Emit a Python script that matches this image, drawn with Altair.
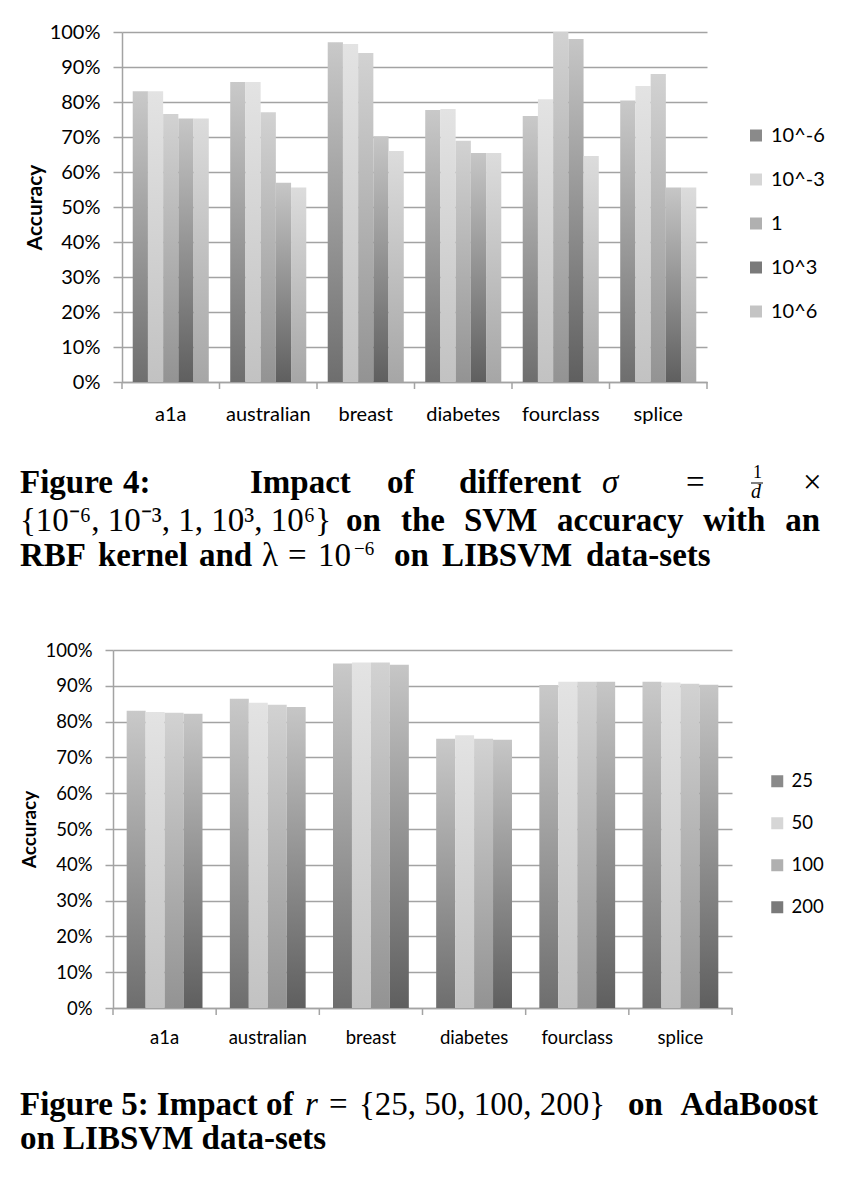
import altair as alt
import pandas as pd

# ---------------- data ----------------
datasets = ["a1a", "australian", "breast", "diabetes", "fourclass", "splice"]

sigma_levels = ["10^-6", "10^-3", "1", "10^3", "10^6"]
sigma_acc_1e_6 = [83.1, 85.7, 97.1, 77.7, 76.0, 80.4]
sigma_acc_1e_3 = [83.1, 85.7, 96.6, 78.0, 80.8, 84.6]
sigma_acc_1 = [76.6, 77.1, 94.0, 68.9, 100.0, 88.0]
sigma_acc_1e3 = [75.3, 56.9, 70.2, 65.4, 98.0, 55.6]
sigma_acc_1e6 = [75.3, 55.6, 66.0, 65.4, 64.6, 55.6]
sigma_values = [sigma_acc_1e_6, sigma_acc_1e_3, sigma_acc_1, sigma_acc_1e3, sigma_acc_1e6]

r_levels = ["25", "50", "100", "200"]
r_acc_25 = [83.0, 86.4, 96.2, 75.2, 90.2, 91.1]
r_acc_50 = [82.7, 85.3, 96.5, 76.2, 91.1, 90.9]
r_acc_100 = [82.5, 84.7, 96.5, 75.2, 91.1, 90.6]
r_acc_200 = [82.2, 84.1, 95.9, 74.9, 91.1, 90.3]
r_values = [r_acc_25, r_acc_50, r_acc_100, r_acc_200]

y_ticks = [0, 10, 20, 30, 40, 50, 60, 70, 80, 90, 100]

# (top colour, bottom colour) of each series' vertical gradient, and a flat legend colour
shades = [("#c9c9c9", "#6e6e6e"), ("#e3e3e3", "#c2c2c2"), ("#d2d2d2", "#939393"),
          ("#c6c6c6", "#5f5f5f"), ("#dcdcdc", "#a6a6a6")]
legend_cols = ["#8a8a8a", "#d6d6d6", "#b0b0b0", "#7a7a7a", "#c4c4c4"]

LABEL_FONT = "Lato"
CAP_FONT = "Liberation Serif"
GRID = "#a3a3a3"
CAP = 33


def long_df(levels, values):
    rows = []
    for lv, vals in zip(levels, values):
        for d, v in zip(datasets, vals):
            rows.append({"dataset": d, "series": lv, "acc": v})
    return pd.DataFrame(rows)


def caption(text, x, y, size=CAP, style="normal", weight="bold", align="left"):
    return alt.Chart(pd.DataFrame({"t": [text]})).mark_text(
        align=align, baseline="alphabetic", font=CAP_FONT, fontSize=size,
        fontWeight=weight, fontStyle=style, color="black"
    ).encode(text="t:N", x=alt.value(x), y=alt.value(y))


def panel(levels, values, width, height, xrange, pad_inner, yoff, lab_size,
          title_size, label_pad_x, title_pad, legend_x, legend_y, row_pad, tick_size):
    df = long_df(levels, values)
    xscale = alt.Scale(domain=datasets, range=xrange, paddingInner=pad_inner,
                       paddingOuter=pad_inner / 2)
    xaxis = alt.Axis(title=None, ticks=False, domainColor=GRID, domainWidth=1.5,
                     labelFont=LABEL_FONT, labelFontSize=lab_size, labelColor="black",
                     labelPadding=label_pad_x, labelAngle=0)
    yaxis = alt.Axis(title="Accuracy", values=y_ticks, labelExpr="datum.value + '%'",
                     grid=True, gridColor=GRID, gridWidth=1.5, domainColor=GRID,
                     domainWidth=1.5, tickColor=GRID, tickWidth=1.5, tickSize=tick_size,
                     labelFont=LABEL_FONT, labelFontSize=lab_size, labelColor="black",
                     labelPadding=13, titleFont=LABEL_FONT, titleFontSize=title_size,
                     titleFontWeight="bold", titleColor="black", titlePadding=title_pad,
                     offset=yoff)
    x = alt.X("dataset:N", sort=datasets, scale=xscale, axis=xaxis)
    xo = alt.XOffset("series:N", scale=alt.Scale(domain=levels, paddingInner=0, paddingOuter=0))
    y = alt.Y("acc:Q", scale=alt.Scale(domain=[0, 100]), axis=yaxis)

    layers = []
    for lv, (top, bot) in zip(levels, shades):
        grad = alt.Gradient(gradient="linear",
                            stops=[alt.GradientStop(offset=0, color=top),
                                   alt.GradientStop(offset=1, color=bot)],
                            x1=0, x2=0, y1=0, y2=1)
        layers.append(alt.Chart(df).transform_filter(alt.datum.series == lv)
                      .mark_bar(color=grad, cornerRadius=0).encode(x=x, xOffset=xo, y=y))
    legend = alt.Legend(orient="none", legendX=legend_x, legendY=legend_y, title=None,
                        symbolType="square", symbolSize=144, symbolOpacity=1,
                        symbolStrokeWidth=0, labelFont=LABEL_FONT, labelFontSize=lab_size,
                        labelColor="black", rowPadding=row_pad, labelOffset=5)
    layers.append(alt.Chart(df).mark_square(opacity=0, size=1).encode(
        x=x, xOffset=xo, y=y,
        color=alt.Color("series:N", scale=alt.Scale(domain=levels,
                                                     range=legend_cols[:len(levels)]),
                        legend=legend)))
    # category boundary ticks below the x axis (half an inner padding before each band)
    step = (xrange[1] - xrange[0]) / len(datasets)
    shift = -(pad_inner / 2) * step
    layers.append(alt.Chart(pd.DataFrame({"dataset": datasets})).mark_rule(
        color=GRID, strokeWidth=1.5, xOffset=shift).encode(
        x=alt.X("dataset:N", sort=datasets, bandPosition=0, scale=xscale, axis=xaxis),
        y=alt.value(height), y2=alt.value(height + 7)))
    layers.append(alt.Chart(pd.DataFrame({"dataset": ["end"]})).mark_rule(
        color=GRID, strokeWidth=1.5).encode(
        x=alt.value(xrange[1]), y=alt.value(height), y2=alt.value(height + 7)))
    return layers


# ---------- Figure 4 (plot origin at page (122, 32)) ----------
W1, H1 = 585, 350
top_layers = panel(sigma_levels, sigma_values, W1, H1, [0, W1], 0.22, 0, 20, 21, 22, 4,
                   624, 93.5, 24, 9)
o1 = 122
L1, L2, L3 = 461, 499, 534
top_layers += [
    # line 1 (justified)
    caption("Figure", 20 - o1, L1), caption("4:", 123 - o1, L1),
    caption("Impact", 250 - o1, L1), caption("of", 387 - o1, L1),
    caption("different", 459 - o1, L1),
    caption("σ", 602 - o1, L1, style="italic", weight="normal"),
    caption("=", 686 - o1, L1, weight="normal"),
    caption("1", 753 - o1, 446, size=18, weight="normal"),
    caption("d", 751 - o1, 466, size=20, style="italic", weight="normal"),
    caption("×", 803 - o1, L1, weight="normal"),
    # line 2 (justified)
    caption("{10⁻⁶, 10⁻³, 1, 10³, 10⁶}", 20 - o1, L2, weight="normal"),
    caption("on", 346 - o1, L2), caption("the", 401 - o1, L2),
    caption("SVM", 464 - o1, L2), caption("accuracy", 557 - o1, L2),
    caption("with", 703 - o1, L2), caption("an", 820 - o1, L2, align="right"),
    # line 3
    caption("RBF", 20 - o1, L3), caption("kernel", 98 - o1, L3), caption("and", 199 - o1, L3),
    caption("λ", 262 - o1, L3, weight="normal"),
    caption("=", 288 - o1, L3, weight="normal"),
    caption("10", 318 - o1, L3, weight="normal"),
    caption("−6", 354 - o1, L3 - 11, size=19, weight="normal"),
    caption("on", 394 - o1, L3), caption("LIBSVM", 442 - o1, L3),
    caption("data-sets", 586 - o1, L3),
]
top_layers.append(alt.Chart(pd.DataFrame({"a": [0]})).mark_rule(color="black", strokeWidth=1).encode(
    x=alt.value(751 - o1), x2=alt.value(763 - o1), y=alt.value(451)))
top = alt.layer(*top_layers).properties(width=W1, height=H1)

# ---------- Figure 5 (plot origin at page (122, 649)) ----------
W2, H2 = 610, 358
bot_layers = panel(r_levels, r_values, W2, H2, [-9, W2], 0.265, 9, 18.5, 19, 20, 5,
                   646, 122, 23, 8)
bot_layers += [
    caption("Figure 5: Impact of", 20 - o1, 465),
    caption("r", 305 - o1, 465, style="italic", weight="normal"),
    caption("=", 329 - o1, 465, weight="normal"),
    caption("{25, 50, 100, 200}", 359 - o1, 465, weight="normal"),
    caption("on", 628 - o1, 465),
    caption("AdaBoost", 818 - o1, 465, align="right"),
    caption("on LIBSVM data-sets", 20 - o1, 499),
]
bottom = alt.layer(*bot_layers).properties(width=W2, height=H2)

chart = alt.vconcat(top, bottom, spacing=68).resolve_scale(
    color="independent", x="independent", xOffset="independent", y="independent"
).properties(
    padding={"left": 20, "top": 22, "right": 0, "bottom": 0}, background="white"
).configure_view(stroke=None)

chart.save("out.html", embed_options={"renderer": "svg", "actions": False})
